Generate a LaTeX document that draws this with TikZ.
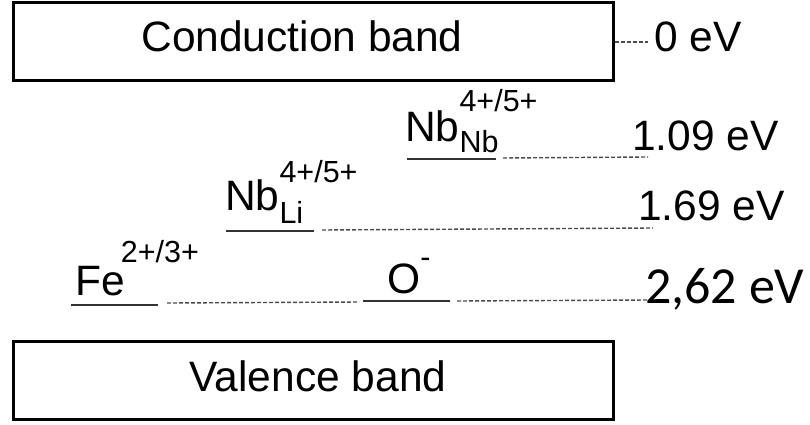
\documentclass[tikz,border=0pt]{standalone}
\usepackage{fontspec}
\setmainfont{Liberation Sans}
\newfontfamily\calibfont{Carlito}
\definecolor{dashgray}{RGB}{75,75,75}
\definecolor{linegray}{RGB}{50,50,50}
\newcommand{\bigsize}{\fontsize{42.5}{48}\selectfont}
\newcommand{\supsize}{\fontsize{30.5}{33}\selectfont}
\begin{document}
\begin{tikzpicture}[x=1pt,y=-1pt,
  band/.style={draw=black,line width=3pt,minimum width=600pt,minimum height=78pt,inner sep=0pt},
  lvl/.style={anchor=base west,inner sep=0pt,font=\bigsize},
  bandtext/.style={anchor=base,inner sep=0pt,font=\bigsize},
  under/.style={draw=linegray,line width=2pt},
  guide/.style={draw=dashgray,line width=1.4pt,dash pattern=on 4pt off 2pt}]
\useasboundingbox (0,0) rectangle (810,425);

% bands
\node[band] (cb) at (313,42) {};
\node[bandtext] (cbt) at (302,52) {Conduction band};
\node[band] (vb) at (313,380) {};
\node[bandtext] (vbt) at (318,391) {Valence band};

% 0 eV
\node[lvl] (e0) at (654,52) {0 eV};
\coordinate (g0b) at (648,42);
\draw[guide] (cb.east) -- (g0b);

% Nb_Nb
\node[lvl] (nbnb) at (405,141) {Nb\rlap{\raisebox{29pt}{\supsize 4+/5+}}\raisebox{-11pt}{\supsize Nb}};
\coordinate (nbnbA) at (407,159);
\coordinate (nbnbB) at (496,159);
\draw[under] (nbnbA) -- (nbnbB);
\node[lvl] (e109) at (632,150) {1.09 eV};
\coordinate (g1a) at (503,158);
\coordinate (g1b) at (648,157);
\draw[guide] (g1a) -- (g1b);

% Nb_Li
\node[lvl] (nbli) at (225,210) {Nb\rlap{\raisebox{28pt}{\supsize 4+/5+}}\raisebox{-13pt}{\supsize Li}};
\coordinate (nbliA) at (226,231);
\coordinate (nbliB) at (314,231);
\draw[under] (nbliA) -- (nbliB);
\node[lvl] (e169) at (638,220) {1.69 eV};
\coordinate (g2a) at (322,230);
\coordinate (g2b) at (653,228);
\draw[guide] (g2a) -- (g2b);

% Fe
\node[lvl] (fe) at (75,295) {Fe\kern-4pt\raisebox{33pt}{\supsize 2+/3+}};
\coordinate (feA) at (71,305);
\coordinate (feB) at (158,305);
\draw[under] (feA) -- (feB);
\coordinate (g3a) at (167,303);
\coordinate (g3b) at (359,302);
\draw[guide] (g3a) -- (g3b);

% O
\node[lvl] (ox) at (387,293) {O\raisebox{26pt}{\supsize -}};
\coordinate (oxA) at (363,301);
\coordinate (oxB) at (450,301);
\draw[under] (oxA) -- (oxB);
\coordinate (g4a) at (457,301);
\coordinate (g4b) at (648,300);
\draw[guide] (g4a) -- (g4b);
\node[anchor=base west,inner sep=0pt,font=\calibfont\fontsize{52}{58}\selectfont] (e262) at (645,303) {2,62 eV};
\end{tikzpicture}
\end{document}
